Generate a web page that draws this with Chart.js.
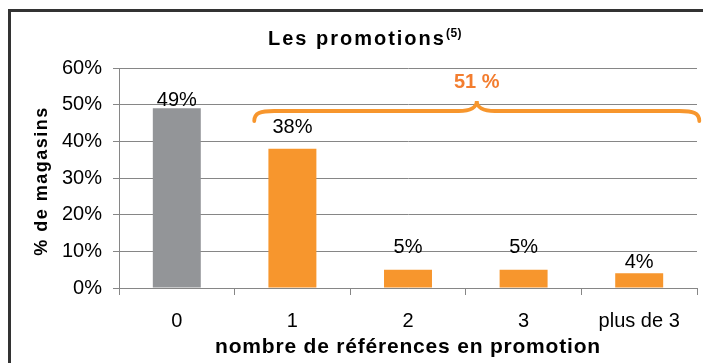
<!DOCTYPE html>
<html lang="fr">
<head>
<meta charset="utf-8">
<script src="https://cdn.jsdelivr.net/npm/chart.js@4.4.1/dist/chart.umd.min.js"></script>
<style>
  html, body { margin: 0; padding: 0; background: #fff; }
  #wrap { position: relative; width: 703px; height: 363px; }
</style>
</head>
<body>
<div id="wrap"><canvas id="promoChart" width="703" height="363"></canvas></div>
<script>
// nombre de références en promotion -> part des magasins (%)
const categories = ['0', '1', '2', '3', 'plus de 3'];
const partMagasins = [49, 38, 5, 5, 4];
const totalEnPromo = 51;            // magasins avec au moins une référence en promo
const yTicks = [0, 10, 20, 30, 40, 50, 60];

const titre = 'Les promotions';
const renvoi = '(5)';
const titreX = 'nombre de références en promotion';
const titreY = '% de magasins';

const GRIS = '#939598';
const ORANGE = '#f7962d';
const ORANGE_TXT = '#f37d2f';
const GRILLE = '#868686';
const POLICE = '"Liberation Sans", Arial, sans-serif';

// décalage (px) entre le haut de chaque barre et la ligne de base de son étiquette
const ecartEtiquette = [2, 16, 17, 17, 5];

const decor = {
  id: 'decor',
  beforeDraw(chart) {
    // cadre du graphique (bords gauche et haut)
    const ctx = chart.ctx;
    ctx.save();
    ctx.strokeStyle = '#333';
    ctx.lineWidth = 3;
    ctx.beginPath();
    ctx.moveTo(9.5, 363);
    ctx.lineTo(9.5, 10.5);
    ctx.lineTo(703, 10.5);
    ctx.stroke();
    ctx.restore();
  },
  afterDatasetsDraw(chart) {
    const ctx = chart.ctx;
    const meta = chart.getDatasetMeta(0);
    ctx.save();
    ctx.fillStyle = '#000';
    ctx.font = '20px ' + POLICE;
    ctx.textAlign = 'center';
    ctx.textBaseline = 'alphabetic';
    meta.data.forEach((bar, i) => {
      ctx.fillText(partMagasins[i] + '%', bar.x, bar.y - ecartEtiquette[i]);
    });
    ctx.restore();
  },
  afterDraw(chart) {
    const ctx = chart.ctx;
    const { chartArea, scales: { x, y } } = chart;
    ctx.save();

    // titre + renvoi en exposant
    ctx.fillStyle = '#000';
    ctx.textBaseline = 'alphabetic';
    ctx.textAlign = 'left';
    ctx.letterSpacing = '2px';
    ctx.font = 'bold 20px ' + POLICE;
    const wT = ctx.measureText(titre).width;
    ctx.letterSpacing = '0.5px';
    ctx.font = 'bold 12px ' + POLICE;
    const wR = ctx.measureText(renvoi).width;
    const x0 = 365 - (wT + wR) / 2;
    ctx.letterSpacing = '2px';
    ctx.font = 'bold 20px ' + POLICE;
    ctx.fillText(titre, x0, 45);
    ctx.letterSpacing = '0.5px';
    ctx.font = 'bold 12px ' + POLICE;
    ctx.fillText(renvoi, x0 + wT, 37);

    // titre de l'axe X
    ctx.textAlign = 'center';
    ctx.letterSpacing = '0.8px';
    ctx.font = 'bold 21px ' + POLICE;
    ctx.fillText(titreX, (chartArea.left + chartArea.right) / 2, 353);

    // titre de l'axe Y, vertical
    ctx.save();
    ctx.translate(47, (chartArea.top + chartArea.bottom) / 2 + 3);
    ctx.rotate(-Math.PI / 2);
    ctx.letterSpacing = '1.5px';
    ctx.font = 'bold 18px ' + POLICE;
    ctx.fillText(titreY, 0, 0);
    ctx.restore();

    // accolade qui regroupe les magasins avec promotions
    const larg = x.getPixelForValue(1) - x.getPixelForValue(0);
    const xG = x.getPixelForValue(1) - 0.33 * larg;
    const xD = x.getPixelForValue(4) + 0.52 * larg;
    const xM = (xG + xD) / 2;
    const yPic = y.getPixelForValue(totalEnPromo);
    const yLig = yPic + 10;
    const yBout = yPic + 20;
    ctx.strokeStyle = ORANGE;
    ctx.lineWidth = 3.8;
    ctx.lineCap = 'round';
    ctx.beginPath();
    ctx.moveTo(xG, yBout);
    ctx.bezierCurveTo(xG, yLig + 2, xG + 6, yLig, xG + 20, yLig);
    ctx.lineTo(xM - 18, yLig);
    ctx.bezierCurveTo(xM - 6, yLig, xM, yLig - 4, xM, yPic);
    ctx.bezierCurveTo(xM, yLig - 4, xM + 6, yLig, xM + 18, yLig);
    ctx.lineTo(xD - 20, yLig);
    ctx.bezierCurveTo(xD - 6, yLig, xD, yLig + 2, xD, yBout);
    ctx.stroke();

    ctx.letterSpacing = '0px';
    ctx.fillStyle = ORANGE_TXT;
    ctx.font = 'bold 20px ' + POLICE;
    ctx.fillText(totalEnPromo + ' %', xM, yPic - 13);

    ctx.restore();
  }
};

new Chart(document.getElementById('promoChart'), {
  type: 'bar',
  data: {
    labels: categories,
    datasets: [{
      data: partMagasins,
      backgroundColor: categories.map((c, i) => i === 0 ? GRIS : ORANGE),
      borderWidth: 0,
      barPercentage: 0.415,
      categoryPercentage: 1
    }]
  },
  options: {
    responsive: false,
    animation: false,
    devicePixelRatio: 1,
    layout: { padding: { top: 68, right: 6, left: 0, bottom: 0 } },
    plugins: {
      legend: { display: false },
      tooltip: { enabled: false }
    },
    scales: {
      x: {
        afterFit(scale) { scale.height = 75; },
        grid: { offset: true, drawOnChartArea: false, color: GRILLE, tickLength: 7 },
        border: { color: GRILLE },
        ticks: { color: '#000', padding: 14, font: { family: POLICE, size: 20 } }
      },
      y: {
        min: 0,
        max: 60,
        afterFit(scale) { scale.width = 119; },
        afterBuildTicks(scale) { scale.ticks = yTicks.map(v => ({ value: v })); },
        grid: { color: GRILLE, tickLength: 6 },
        border: { color: GRILLE },
        ticks: {
          color: '#000',
          padding: 11,
          font: { family: POLICE, size: 20 },
          callback: v => v + '%'
        }
      }
    }
  },
  plugins: [decor]
});
</script>
</body>
</html>
